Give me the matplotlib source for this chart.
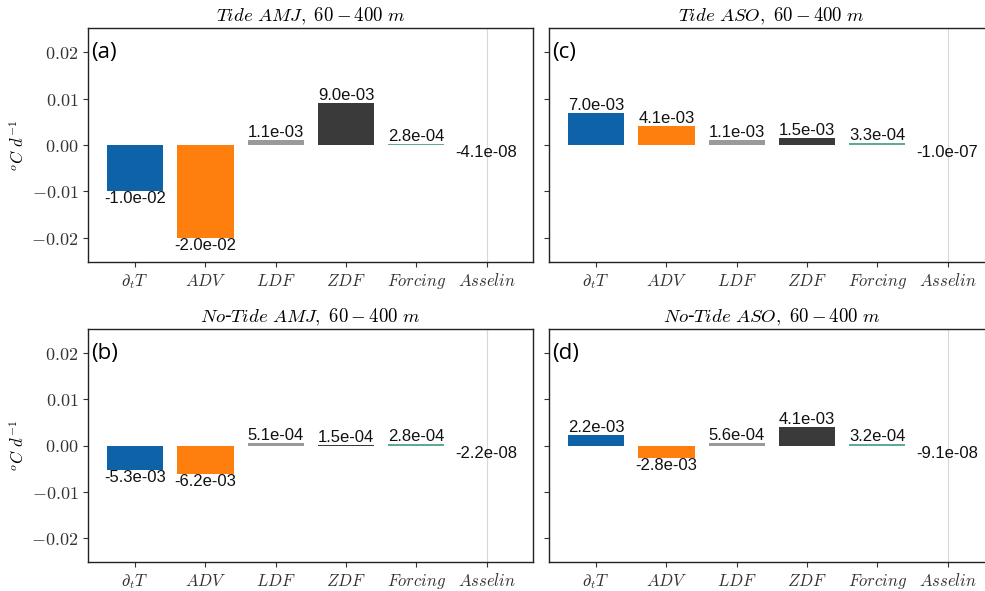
import matplotlib
matplotlib.use("Agg")
import matplotlib.pyplot as plt
import numpy as np

plt.rcParams['mathtext.fontset'] = 'cm'

terms = [r'$\partial_t T$', r'$ADV$', r'$LDF$', r'$ZDF$', r'$Forcing$', r'$Asselin$']
tide_amj = [-1.0e-02, -2.0e-02, 1.1e-03, 9.0e-03, 2.8e-04, -4.1e-08]
tide_aso = [7.0e-03, 4.1e-03, 1.1e-03, 1.5e-03, 3.3e-04, -1.0e-07]
notide_amj = [-5.3e-03, -6.2e-03, 5.1e-04, 1.5e-04, 2.8e-04, -2.2e-08]
notide_aso = [2.2e-03, -2.8e-03, 5.6e-04, 4.1e-03, 3.2e-04, -9.1e-08]
titles = [r'$Tide\ AMJ,\ 60-400\ m$', r'$Tide\ ASO,\ 60-400\ m$',
          r'$No$-$Tide\ AMJ,\ 60-400\ m$', r'$No$-$Tide\ ASO,\ 60-400\ m$']
panel_labels = ['(a)', '(c)', '(b)', '(d)']
yticks = [-0.02, -0.01, 0.0, 0.01, 0.02]
ytick_labels = [r'$-0.02$', r'$-0.01$', r'$0.00$', r'$0.01$', r'$0.02$']
colors = ['#0e62a8', '#ff7f0e', '#9a9a9a', '#3a3a3a', '#5fa89a', '#b0b0b0']

W, H = 985, 591
fig = plt.figure(figsize=(W / 100, H / 100), dpi=100)

def px_axes(left, top, right, bottom):
    return fig.add_axes([left / W, 1 - bottom / H, (right - left) / W, (bottom - top) / H])

boxes = [(88, 28, 533, 262), (549, 28, 994, 262), (88, 329, 533, 562), (549, 329, 994, 562)]
data = [tide_amj, tide_aso, notide_amj, notide_aso]

for i, (box, vals) in enumerate(zip(boxes, data)):
    ax = px_axes(*box)
    x = np.arange(len(terms))
    ax.axvline(5, color='#d8d8d8', lw=0.8, zorder=0)
    ax.bar(x, vals, width=0.8, color=colors, zorder=2)
    for xi, v in zip(x, vals):
        ax.text(xi, v, f'{v:.1e}', ha='center', va='bottom' if v > 0 else 'top',
                fontsize=12, family='Liberation Sans', color='#111111', zorder=3)
    ax.set_xlim(-0.67, 5.66)
    ax.set_ylim(-0.0252, 0.0252)
    ax.set_xticks(x)
    ax.set_xticklabels(terms, fontsize=12)
    ax.set_yticks(yticks)
    if i % 2 == 0:
        ax.set_yticklabels(ytick_labels, fontsize=13)
        ax.set_ylabel(r'$^oC\ d^{-1}$', fontsize=12, labelpad=2)
    else:
        ax.set_yticklabels([])
    ax.set_title(titles[i], fontsize=13.5, pad=5)
    ax.text(0.006, 0.94, panel_labels[i], transform=ax.transAxes, ha='left', va='top',
            fontsize=16, family='Open Sans')
    for s in ax.spines.values():
        s.set_linewidth(1.0)
        s.set_color('#222222')
    ax.tick_params(length=3.5, width=0.8, colors='#333333')

fig.savefig('out.png', dpi=100)
